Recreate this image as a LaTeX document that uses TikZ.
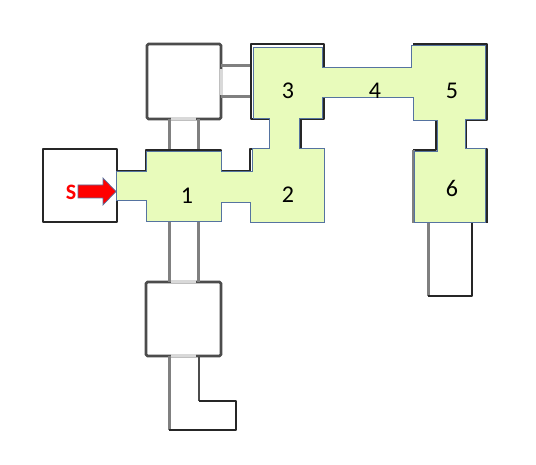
\documentclass[tikz,border=0pt]{standalone}
\usepackage{fontspec}
\setmainfont{Carlito}
\begin{document}
\begin{tikzpicture}[x=1pt,y=-1pt,
  wallk/.style={draw=black!85,line width=2.4pt,line join=round},
  walld/.style={draw=black!70,line width=2.8pt,line join=round},
  wallg/.style={draw=black!50,line width=3pt},
  door/.style={draw=black!15,line width=3pt},
  floorarea/.style={fill=floorgreen,draw=edgeblue,line width=1pt,line join=miter},
  num/.style={font=\fontsize{24}{24}\selectfont,text=black,inner sep=0pt}]
\definecolor{floorgreen}{HTML}{E8FBBB}
\definecolor{edgeblue}{HTML}{5573A0}
\useasboundingbox (0,0) rectangle (536,465);
\fill[white] (0,0) rectangle (536,465);
% unshaded rooms
\draw[wallk] (43,149) rectangle (117,222);
\draw[walld,rounded corners=1.5pt] (147,44) rectangle (221,119);
\draw[door] (221,69) -- (221,95);
\draw[door] (171,119) -- (196,119);
\draw[walld,rounded corners=1.5pt] (146,282) rectangle (221,356);
\draw[door] (171,282) -- (196,282);
\draw[door] (171,356) -- (196,356);
% corridors
\draw[wallg] (221,66) -- (250,66);
\draw[wallg] (221,97) -- (250,97);
\draw[wallg] (169,119) -- (169,149);
\draw[wallg] (198,119) -- (198,149);
\draw[wallg] (169,222) -- (169,282);
\draw[wallg] (198,222) -- (198,282);
\draw[wallg] (169,356) -- (169,430);
\draw[walld] (199,356) -- (199,401);
\draw[wallk] (169,430) -- (236,430) -- (236,401) -- (199,401);
\draw[wallg] (428,223) -- (428,296);
\draw[wallk] (428,296) -- (472,296) -- (472,223);
% shadow walls round the shaded rooms
\draw[wallk] (117,171) -- (146,171) -- (146,150) -- (221,150) -- (221,171) -- (250,171) -- (250,149) -- (269,149);
\draw[wallk] (269,119) -- (251,119) -- (251,44) -- (324,44) -- (324,68) -- (411,68);
\draw[wallk] (324,98) -- (324,119) -- (301,119) -- (301,149);
\draw[wallk] (413,44) -- (487,44) -- (487,120) -- (466,120) -- (466,149) -- (487,149) -- (487,223);
\draw[wallk] (413,150) -- (436,150) -- (436,121);
\draw[wallg] (413,150) -- (413,223);
% shaded rooms
\draw[floorarea] (116,172) -- (146,172) -- (146,152) -- (221,152) -- (221,172) -- (252,172)
  -- (252,149) -- (269,149) -- (269,119) -- (253,119) -- (253,48) -- (322,48) -- (322,68)
  -- (411,68) -- (411,46) -- (485,46) -- (485,120) -- (465,120) -- (465,149) -- (485,149)
  -- (485,223) -- (414,223) -- (414,152) -- (437,152) -- (437,121) -- (413,121) -- (413,98)
  -- (322,98) -- (322,119) -- (299,119) -- (299,149) -- (324,149) -- (324,223) -- (250,223)
  -- (250,203) -- (221,203) -- (221,222) -- (146,222) -- (146,201) -- (116,201) -- cycle;
% labels
\node[num] (n1) at (187,196) {1};
\node[num] (n2) at (288,195) {2};
\node[num] (n3) at (288,91) {3};
\node[num] (n4) at (375,91) {4};
\node[num] (n5) at (452,91) {5};
\node[num] (n6) at (452,188) {6};
\node[font=\fontsize{22}{22}\bfseries\selectfont,text=red,inner sep=0pt] (s) at (71,192) {S};
% entry arrow
\draw[fill=red,draw=edgeblue,line width=0.7pt] (78,185) -- (103,185) -- (103,178) -- (116,191.5) -- (103,205) -- (103,198) -- (78,198) -- cycle;
\end{tikzpicture}
\end{document}
